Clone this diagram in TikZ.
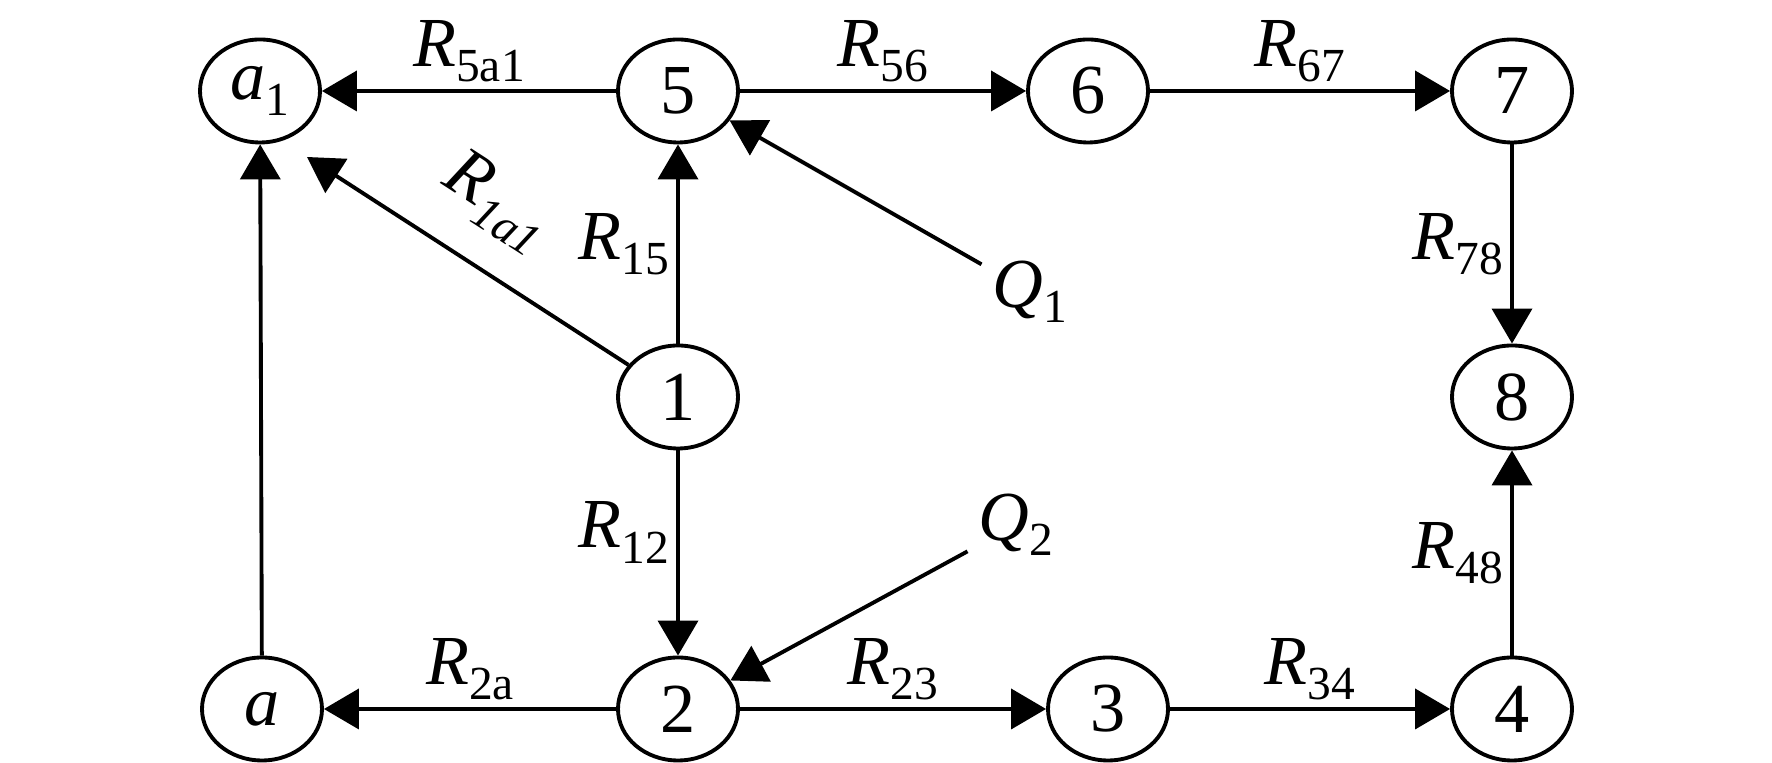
\documentclass[tikz,border=0pt]{standalone}
\usepackage{fontspec}
\setmainfont{Liberation Serif}
\usepackage{tikz}
\usetikzlibrary{positioning,shapes,arrows.meta}

\newcommand{\lowsub}[1]{\raisebox{-0.22em}{\fontsize{13.5}{13.5}\selectfont #1}}
\newcommand{\Rlab}[1]{\textit{R}\lowsub{#1}}

\begin{document}
\begin{tikzpicture}[
    font=\fontsize{20}{22}\selectfont,
    vertex/.style={draw, ellipse, line width=1.1pt, minimum width=1.20cm, minimum height=1.03cm, inner sep=0pt},
    arr/.style={-{Triangle[length=3.5mm,width=4mm]}, line width=1.1pt},
    lab/.style={inner sep=2pt}
]
    \useasboundingbox (0,0) rectangle (17.72,7.63);

    % Draw the nodes
    \node[vertex] (a1) at (2.60,6.72) {\textit{a}\lowsub{1}};
    \node[vertex] (n5) at (6.78,6.72) {5};
    \node[vertex] (n6) at (10.88,6.72) {6};
    \node[vertex] (n7) at (15.12,6.72) {7};
    \node[vertex] (n1) at (6.78,3.66) {1};
    \node[vertex] (n8) at (15.12,3.66) {8};
    \node[vertex] (a) at (2.62,0.54) {\textit{a}};
    \node[vertex] (n2) at (6.78,0.54) {2};
    \node[vertex] (n3) at (11.08,0.54) {3};
    \node[vertex] (n4) at (15.12,0.54) {4};

    % Inflow nodes
    \node[inner sep=3pt] (q1) at (10.30,4.71) {\textit{Q}\lowsub{1}};
    \node[inner sep=3pt] (q2) at (10.16,2.38) {\textit{Q}\lowsub{2}};
    \coordinate (t1a1) at (3.07,6.06);

    % Top row
    \draw[arr] (n5) -- (a1) node[midway, above, lab] {\Rlab{5a1}};
    \draw[arr] (n5) -- (n6) node[midway, above, lab] {\Rlab{56}};
    \draw[arr] (n6) -- (n7) node[midway, above, lab] {\Rlab{67}};

    % Vertical edges
    \draw[arr] (n7) -- (n8) node[midway, left, lab] {\Rlab{78}};
    \draw[arr] (n4) -- (n8) node[midway, left, lab] {\Rlab{48}};
    \draw[arr] (n1) -- (n5) node[midway, left, lab] {\Rlab{15}};
    \draw[arr] (n1) -- (n2) node[pos=0.4, left, lab] {\Rlab{12}};
    \draw[arr] (a) -- (a1);

    % Diagonal edges
    \draw[arr] (n1) -- (t1a1) node[pos=0.52, sloped, above=2.5mm, lab] {\textit{R}\lowsub{\textit{1a1}}};
    \draw[arr] (q1) -- (n5);
    \draw[arr] (q2) -- (n2);

    % Bottom row
    \draw[arr] (n2) -- (a) node[midway, above, lab] {\Rlab{2a}};
    \draw[arr] (n2) -- (n3) node[midway, above, lab] {\Rlab{23}};
    \draw[arr] (n3) -- (n4) node[midway, above, lab] {\Rlab{34}};
\end{tikzpicture}
\end{document}
